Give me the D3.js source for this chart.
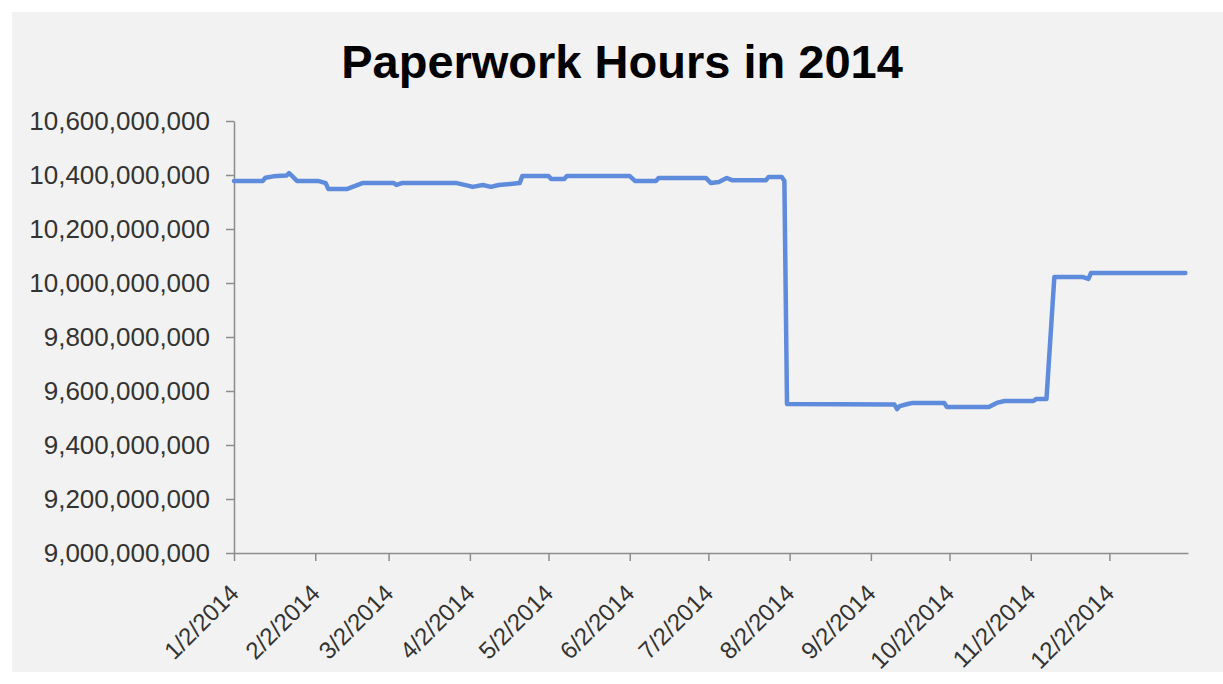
<html>
<head>
<meta charset="utf-8">
<title>Paperwork Hours in 2014</title>
<style>
  body { margin: 0; background: #ffffff; }
  .line { fill: none; stroke: #5f8bdc; stroke-width: 4.5px; stroke-linejoin: round; stroke-linecap: round; }
  .axis path, .axis line { stroke: #8c8c8c; stroke-width: 1.5px; }
  .axis text { fill: #333333; font-family: "Liberation Sans", Arial, sans-serif; font-size: 26px; }
  .x.axis text { font-size: 24px; }
</style>
</head>
<body>
<script src="https://d3js.org/d3.v7.min.js"></script>
<script>

// dates where the series changes level (m/d/yyyy)
var dates = [
  "1/2/2014", "1/13/2014", "1/14/2014", "1/17/2014", "1/22/2014", "1/23/2014", "1/24/2014", "1/26/2014",
  "2/3/2014", "2/6/2014", "2/7/2014", "2/14/2014", "2/20/2014",
  "3/4/2014", "3/5/2014", "3/7/2014", "3/28/2014",
  "4/2/2014", "4/3/2014", "4/7/2014", "4/10/2014", "4/13/2014", "4/21/2014", "4/22/2014",
  "5/2/2014", "5/3/2014", "5/8/2014", "5/9/2014",
  "6/2/2014", "6/4/2014", "6/12/2014", "6/13/2014",
  "7/1/2014", "7/3/2014", "7/6/2014", "7/9/2014", "7/11/2014", "7/24/2014", "7/25/2014", "7/30/2014", "7/31/2014",
  "8/1/2014",
  "9/11/2014", "9/12/2014", "9/13/2014", "9/16/2014", "9/18/2014", "9/30/2014",
  "10/1/2014", "10/17/2014", "10/20/2014", "10/23/2014",
  "11/3/2014", "11/4/2014", "11/8/2014", "11/11/2014", "11/22/2014", "11/24/2014", "11/25/2014",
  "12/31/2014"
];

// hours at each of those dates
var hours = [
  10378e6, 10378e6, 10390e6, 10395e6, 10398e6, 10407e6, 10398e6, 10378e6,
  10378e6, 10370e6, 10348e6, 10348e6, 10370e6,
  10370e6, 10363e6, 10370e6, 10370e6,
  10359e6, 10356e6, 10363e6, 10356e6, 10363e6, 10370e6, 10396e6,
  10396e6, 10385e6, 10385e6, 10396e6,
  10396e6, 10378e6, 10378e6, 10389e6,
  10389e6, 10370e6, 10374e6, 10389e6, 10381e6, 10381e6, 10393e6, 10393e6, 10378e6,
  9552e6,
  9550e6, 9533e6, 9544e6, 9552e6, 9556e6, 9556e6,
  9541e6, 9541e6, 9556e6, 9563e6,
  9563e6, 9570e6, 9570e6, 10022e6, 10022e6, 10015e6, 10037e6,
  10037e6
];

var yTicks = [9000e6, 9200e6, 9400e6, 9600e6, 9800e6, 10000e6, 10200e6, 10400e6, 10600e6];
var xTickLabels = ["1/2/2014", "2/2/2014", "3/2/2014", "4/2/2014", "5/2/2014", "6/2/2014",
                   "7/2/2014", "8/2/2014", "9/2/2014", "10/2/2014", "11/2/2014", "12/2/2014"];
var title = "Paperwork Hours in 2014";

var W = 1223, H = 684;
var margin = {top: 121, right: 35, bottom: 131, left: 234},
    width = W - margin.left - margin.right,
    height = H - margin.top - margin.bottom;

var parseDate = d3.timeParse("%m/%d/%Y");
var data = dates.map(function(d, i) { return {date: parseDate(d), value: hours[i]}; });

var x = d3.scaleTime()
    .domain([parseDate("1/2/2014"), parseDate("1/1/2015")])
    .range([0, width]);
var y = d3.scaleLinear()
    .domain([9000e6, 10600e6])
    .range([height, 0]);

var svg = d3.select("body").append("svg")
    .attr("width", W)
    .attr("height", H);

// chart area background
svg.append("rect")
    .attr("x", 12).attr("y", 12)
    .attr("width", W - 12).attr("height", H - 24)
    .attr("fill", "#f2f2f2");

svg.append("text")
    .attr("x", 622)
    .attr("y", 78)
    .attr("text-anchor", "middle")
    .style("font-family", "'Liberation Sans', Arial, sans-serif")
    .style("font-weight", "bold")
    .style("font-size", "47px")
    .style("fill", "#000")
    .text(title);

var g = svg.append("g")
    .attr("transform", "translate(" + margin.left + "," + margin.top + ")");

// y axis
var fmt = d3.format(",");
g.append("g")
    .attr("class", "y axis")
    .call(d3.axisLeft(y).tickValues(yTicks).tickFormat(fmt).tickSize(8).tickSizeOuter(0).tickPadding(16));

// x axis
g.append("g")
    .attr("class", "x axis")
    .attr("transform", "translate(0," + height + ")")
    .call(d3.axisBottom(x)
        .tickValues(xTickLabels.map(parseDate))
        .tickFormat(d3.timeFormat("%-m/%-d/%Y"))
        .tickSize(8).tickSizeOuter(0))
  .selectAll("text")
    .attr("text-anchor", "end")
    .attr("dx", "0")
    .attr("dy", "0")
    .attr("transform", "translate(-2,34) rotate(-45)");

// line
var line = d3.line()
    .x(function(d) { return x(d.date); })
    .y(function(d) { return y(d.value); });

g.append("path")
    .datum(data)
    .attr("class", "line")
    .attr("d", line);

</script>
</body>
</html>
